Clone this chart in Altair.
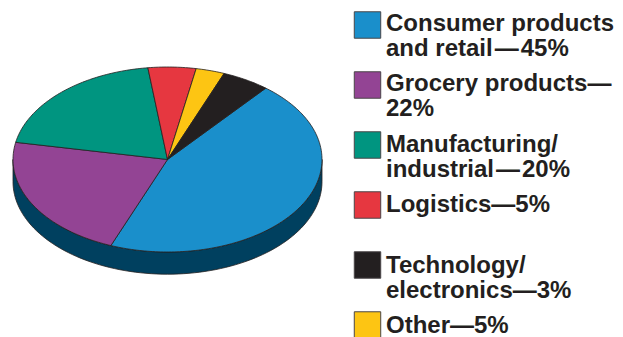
import math

import altair as alt
import pandas as pd

# Pie slices in drawing order, clockwise from the upper right
slice_names = ["Consumer", "Grocery", "Manufacturing", "Logistics", "Other", "Technology"]
slice_shares = [45, 22, 20, 5, 3, 5]
slice_colors = ["#1a8fcb", "#934494", "#009580", "#e63740", "#fdc513", "#231f20"]
start_bearing = 39.5  # degrees clockwise from twelve o'clock
rim_color = "#00405f"
rim_depth = 0.24  # thickness of the disc, in radius units

# Legend rows
legend_labels = [
    "Consumer products\nand retail\u200a\u2014\u200a45%",
    "Grocery products\u2014\n22%",
    "Manufacturing/\nindustrial\u200a\u2014\u200a20%",
    "Logistics\u20145%",
    "Technology/\nelectronics\u20143%",
    "Other\u20145%",
]
legend_colors = ["#1a8fcb", "#934494", "#009580", "#e63740", "#231f20", "#fdc513"]

INK = "#231f20"
x_scale = alt.Scale(domain=[-1, 1], range=[13, 322])
y_scale = alt.Scale(domain=[-1, 1], range=[252, 67])


def outline(points, color):
    frame = pd.DataFrame(points, columns=["x", "y"])
    frame["i"] = range(len(frame))
    return (
        alt.Chart(frame)
        .mark_line(fill=color, stroke=INK, strokeWidth=0.8, interpolate="linear-closed", clip=False)
        .encode(
            x=alt.X("x:Q", scale=x_scale, axis=None),
            y=alt.Y("y:Q", scale=y_scale, axis=None),
            order="i:Q",
        )
    )


def on_disc(bearing):
    a = math.radians(bearing)
    return math.sin(a), math.cos(a)


# Side of the disc: the lower half of the rim, swept down by the thickness
front = [on_disc(b) for b in range(90, 271, 2)]
rim = front + [(x, y - rim_depth) for x, y in reversed(front)]
layers = [outline(rim, rim_color)]

# Top face
bearing = start_bearing
for name, share, color in zip(slice_names, slice_shares, slice_colors):
    sweep = share * 3.6
    steps = max(2, round(sweep))
    arc = [on_disc(bearing + sweep * k / steps) for k in range(steps + 1)]
    layers.append(outline([(0.0, 0.0)] + arc, color))
    bearing += sweep

pie = alt.layer(*layers)

legend = pd.DataFrame(
    {"row": range(len(legend_labels)), "label": legend_labels, "color": legend_colors}
)

swatches = (
    alt.Chart(legend)
    .mark_square(size=700, opacity=1, stroke="#4a4648", strokeWidth=1, filled=True)
    .encode(
        x=alt.value(367.5),
        y=alt.Y("row:Q", scale=alt.Scale(domain=[0, 5], range=[25, 325]), axis=None),
        fill=alt.Color("color:N", scale=None),
    )
)

labels = (
    alt.Chart(legend)
    .mark_text(
        align="left",
        baseline="alphabetic",
        font="Liberation Sans",
        fontWeight="bold",
        fontSize=24,
        lineHeight=25,
        lineBreak="\n",
        color=INK,
    )
    .encode(
        x=alt.value(386),
        y=alt.Y("row:Q", scale=alt.Scale(domain=[0, 5], range=[31, 333]), axis=None),
        text="label:N",
    )
)

chart = (
    alt.layer(pie, swatches, labels)
    .resolve_scale(x="independent", y="independent")
    .properties(width=623, height=337, padding=0, background="white", autosize=alt.AutoSizeParams(type="none"))
    .configure_view(stroke=None)
)

chart.save("out.html", embed_options={"renderer": "svg", "actions": False})
